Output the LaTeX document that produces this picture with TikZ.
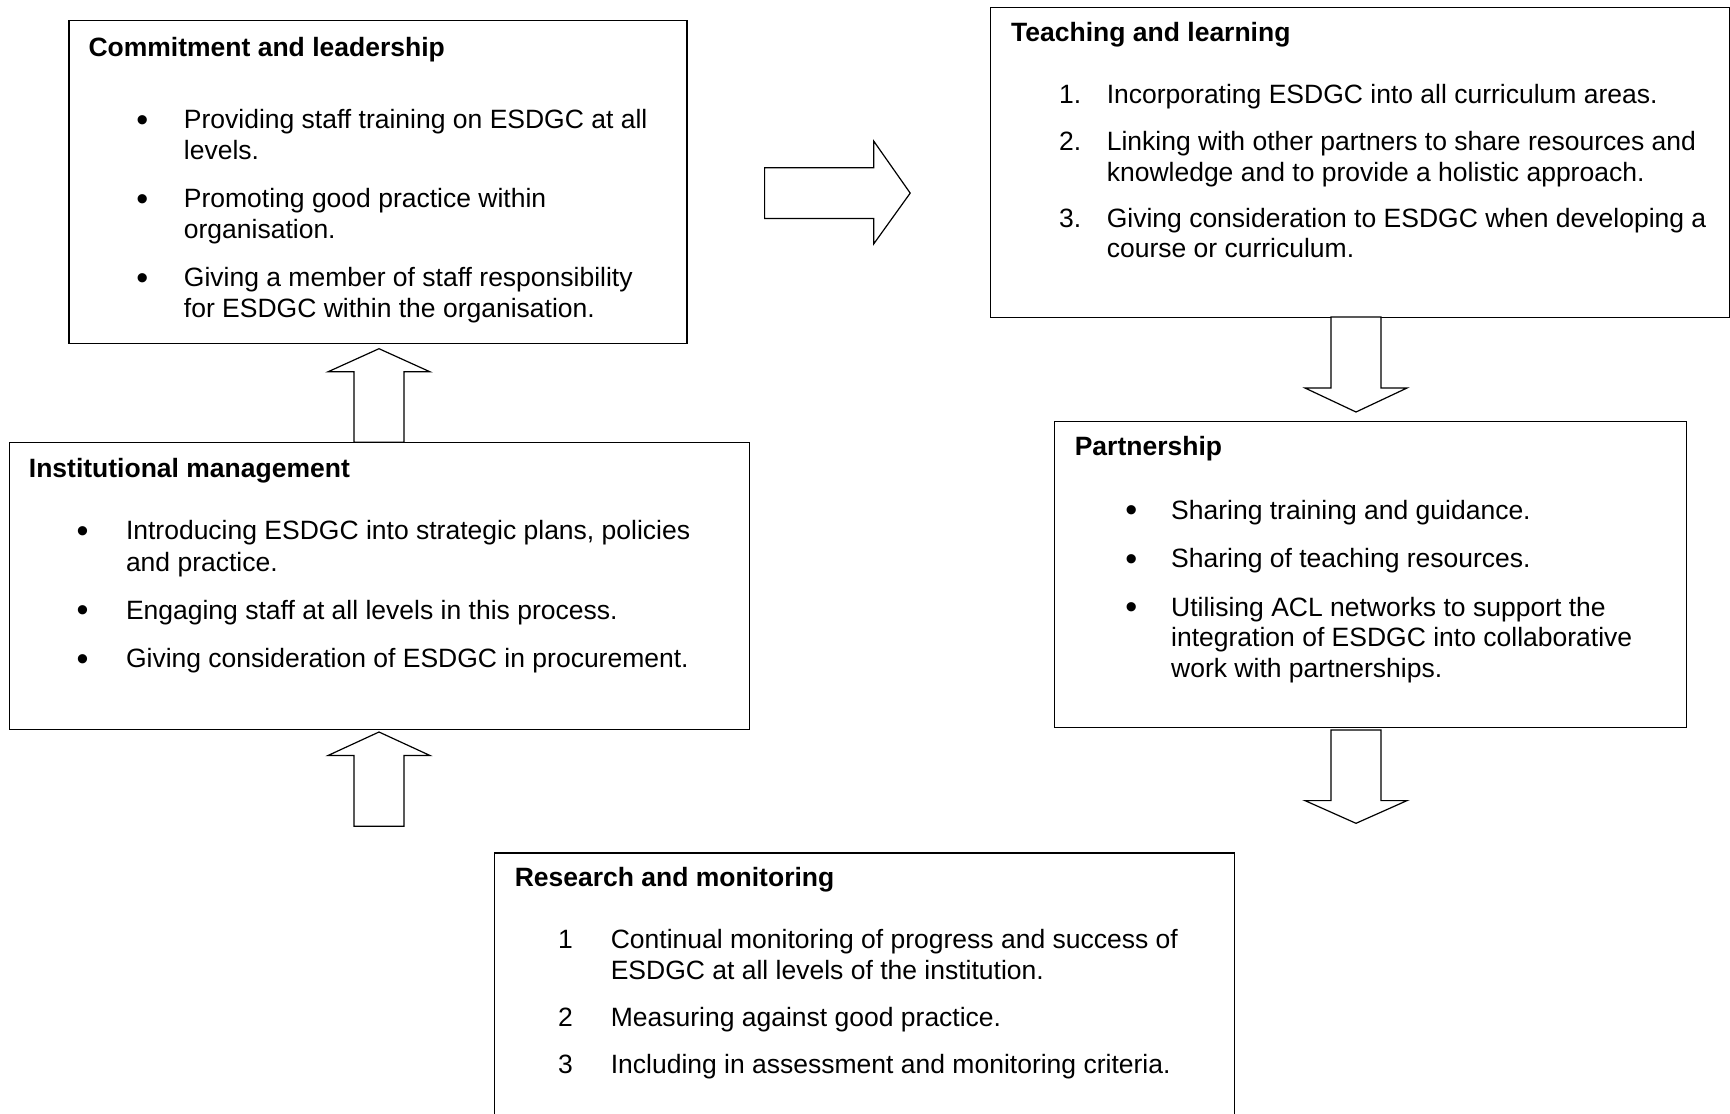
\documentclass[tikz,border=0pt]{standalone}
\usepackage{fontspec}
\setmainfont{Liberation Sans}
\usetikzlibrary{calc}
\tikzset{
  box/.style={draw=black, line width=1.2pt, fill=white, inner sep=0pt, anchor=north west},
  txt/.style={inner sep=0pt, anchor=base west, font=\fontsize{26.5}{30.9}\selectfont},
  headtxt/.style={inner sep=0pt, anchor=base west, font=\bfseries\fontsize{26.5}{30.9}\selectfont},
  bul/.style={inner sep=0pt, anchor=base, yshift=-2.5pt, font=\fontsize{34}{36}\selectfont},
  numc/.style={inner sep=0pt, anchor=base, font=\fontsize{26.5}{30.9}\selectfont},
  num/.style={inner sep=0pt, anchor=base west, font=\fontsize{26.5}{30.9}\selectfont},
  blockarrow/.style={draw=black, line width=1.2pt, fill=white, line join=miter}
}
\begin{document}
\begin{tikzpicture}[x=1pt,y=-1pt]
\useasboundingbox (0,0) rectangle (1730,1114);
\clip (0,0) rectangle (1730,1114);
\fill[white] (0,0) rectangle (1730,1114);

% boxes
\node[box, minimum width=617.9pt, minimum height=323.2pt] (cl) at (68.4,19.9) {};
\node[box, minimum width=738.8pt, minimum height=310.5pt] (tl) at (989.7,6.5) {};
\node[box, minimum width=632.3pt, minimum height=306.2pt] (pa) at (1053.6,420.6) {};
\node[box, minimum width=740.3pt, minimum height=287.0pt] (im) at (8.8,442.2) {};
\node[box, minimum width=740.5pt, minimum height=280pt] (rm) at (493.5,852.3) {};

% Commitment and leadership
\node[headtxt] (clh) at (88.3,56) {Commitment and leadership};
\node[bul] (clb1) at (142.3,128.6) {•};
\node[txt] (cl1a) at (183.7,128.6) {Providing staff training on ESDGC at all};
\node[txt] (cl1b) at (183.7,159.5) {levels.};
\node[bul] (clb2) at (142.3,207.6) {•};
\node[txt] (cl2a) at (183.7,207.6) {Promoting good practice within};
\node[txt] (cl2b) at (183.7,238.5) {organisation.};
\node[bul] (clb3) at (142.3,286.6) {•};
\node[txt] (cl3a) at (183.7,286.6) {Giving a member of staff responsibility};
\node[txt] (cl3b) at (183.7,317.5) {for ESDGC within the organisation.};

% Teaching and learning
\node[headtxt] (tlh) at (1011,41.9) {Teaching and learning};
\node[num] (tln1) at (1059,103.7) {1.};
\node[txt] (tl1a) at (1106.6,103.7) {Incorporating ESDGC into all curriculum areas.};
\node[num] (tln2) at (1059,150.9) {2.};
\node[txt] (tl2a) at (1106.6,150.9) {Linking with other partners to share resources and};
\node[txt] (tl2b) at (1106.6,181.1) {knowledge and to provide a holistic approach.};
\node[num] (tln3) at (1059,227.3) {3.};
\node[txt] (tl3a) at (1106.6,227.3) {Giving consideration to ESDGC when developing a};
\node[txt] (tl3b) at (1106.6,257.5) {course or curriculum.};

% Partnership
\node[headtxt] (pah) at (1074.6,455.3) {Partnership};
\node[bul] (pab1) at (1131.4,519.2) {•};
\node[txt] (pa1a) at (1171,519.2) {Sharing training and guidance.};
\node[bul] (pab2) at (1131.4,567.5) {•};
\node[txt] (pa2a) at (1171,567.5) {Sharing of teaching resources.};
\node[bul] (pab3) at (1131.4,616) {•};
\node[txt] (pa3a) at (1171,616) {Utilising ACL networks to support the};
\node[txt] (pa3b) at (1171,646.9) {integration of ESDGC into collaborative};
\node[txt] (pa3c) at (1171,677.8) {work with partnerships.};

% Institutional management
\node[headtxt] (imh) at (28.7,477) {Institutional management};
\node[bul] (imb1) at (82.7,539.8) {•};
\node[txt] (im1a) at (125.8,539.8) {Introducing ESDGC into strategic plans, policies};
\node[txt] (im1b) at (125.8,571) {and practice.};
\node[bul] (imb2) at (82.7,619.1) {•};
\node[txt] (im2a) at (125.8,619.1) {Engaging staff at all levels in this process.};
\node[bul] (imb3) at (82.7,667.8) {•};
\node[txt] (im3a) at (125.8,667.8) {Giving consideration of ESDGC in procurement.};

% Research and monitoring
\node[headtxt] (rmh) at (514.6,886.5) {Research and monitoring};
\node[numc] (rmn1) at (565.4,948) {1};
\node[txt] (rm1a) at (610.6,948) {Continual monitoring of progress and success of};
\node[txt] (rm1b) at (610.6,979) {ESDGC at all levels of the institution.};
\node[numc] (rmn2) at (565.4,1026.2) {2};
\node[txt] (rm2a) at (610.6,1026.2) {Measuring against good practice.};
\node[numc] (rmn3) at (565.4,1073) {3};
\node[txt] (rm3a) at (610.6,1073) {Including in assessment and monitoring criteria.};

% block arrows
% right arrow: commitment -> teaching
\coordinate (rab) at (764.6,193.1);
\coordinate (rat) at (910.2,193.1);
\draw[blockarrow] ($(rab)+(0,-25.4)$) -- ($(rab)+(109.2,-25.4)$) -- ($(rab)+(109.2,-51.9)$) -- (rat)
  -- ($(rab)+(109.2,50.7)$) -- ($(rab)+(109.2,25.4)$) -- ($(rab)+(0,25.4)$) -- cycle;

% down arrow: teaching -> partnership
\coordinate (d1b) at (1356,317);
\coordinate (d1t) at (1356,412);
\draw[blockarrow] ($(d1b)+(-25,0)$) -- ($(d1b)+(-25,71)$) -- ($(d1b)+(-51,71)$) -- (d1t)
  -- ($(d1b)+(51,71)$) -- ($(d1b)+(25,71)$) -- ($(d1b)+(25,0)$) -- cycle;

% down arrow: partnership -> research
\coordinate (d2b) at (1356,730);
\coordinate (d2t) at (1356,823.3);
\draw[blockarrow] ($(d2b)+(-25,0)$) -- ($(d2b)+(-25,70.6)$) -- ($(d2b)+(-51,70.6)$) -- (d2t)
  -- ($(d2b)+(51,70.6)$) -- ($(d2b)+(25,70.6)$) -- ($(d2b)+(25,0)$) -- cycle;

% up arrow: institutional -> commitment
\coordinate (u1b) at (379,442.2);
\coordinate (u1t) at (379,348.7);
\draw[blockarrow] ($(u1b)+(-25,0)$) -- ($(u1b)+(-25,-70.4)$) -- ($(u1b)+(-51,-70.4)$) -- (u1t)
  -- ($(u1b)+(51,-70.4)$) -- ($(u1b)+(25,-70.4)$) -- ($(u1b)+(25,0)$) -- cycle;

% up arrow: research -> institutional
\coordinate (u2b) at (379,826.2);
\coordinate (u2t) at (379,732);
\draw[blockarrow] ($(u2b)+(-25,0)$) -- ($(u2b)+(-25,-70.7)$) -- ($(u2b)+(-51,-70.7)$) -- (u2t)
  -- ($(u2b)+(51,-70.7)$) -- ($(u2b)+(25,-70.7)$) -- ($(u2b)+(25,0)$) -- cycle;
\end{tikzpicture}
\end{document}
